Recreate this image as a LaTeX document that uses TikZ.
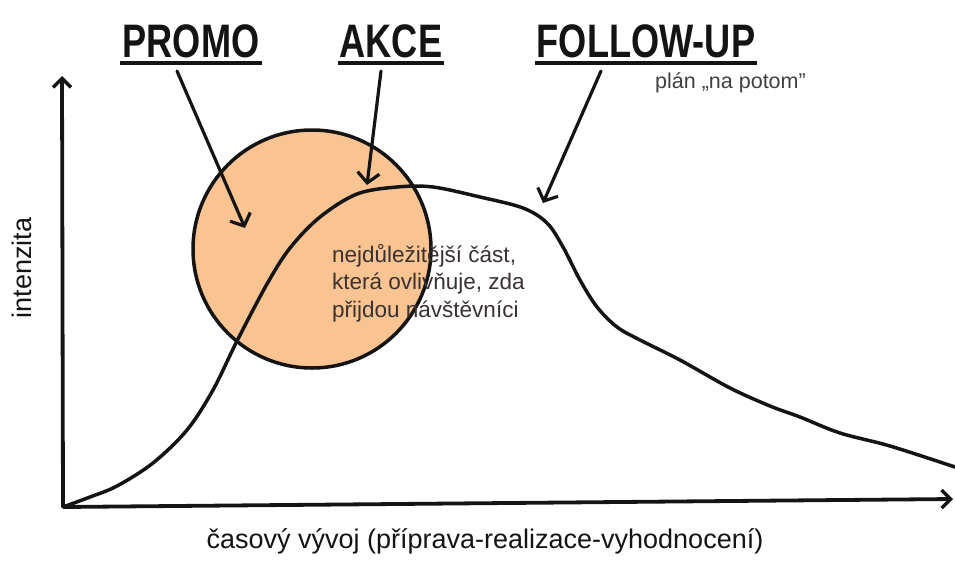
\documentclass[tikz,border=0pt]{standalone}
\usepackage{fontspec}
\setmainfont{Liberation Sans}
\newfontfamily\headfont[FakeStretch=0.77]{Liberation Sans}
\usetikzlibrary{arrows.meta}

\definecolor{peach}{HTML}{F9C392}
\definecolor{ink}{HTML}{141414}
\definecolor{notecol}{HTML}{3A3232}
\definecolor{graytext}{HTML}{404040}

\tikzset{
  heading/.style={font=\headfont\bfseries\fontsize{47}{50}\selectfont, inner sep=0pt, anchor=base, text=ink},
  underline/.style={line width=3.2pt, draw=ink},
  axis/.style={line width=3.8pt, draw=ink, -{Straight Barb[length=9pt,width=18pt,line width=3.4pt]}},
  pointer/.style={line width=3.2pt, draw=ink, line cap=round, -{Straight Barb[length=10pt,width=22pt,line width=3.2pt]}},
  curve/.style={line width=3.5pt, draw=ink, line join=round, line cap=round},
  axislabel/.style={font=\fontsize{27}{30}\selectfont, text=ink, inner sep=0pt},
  note/.style={font=\fontsize{22.5}{27.5}\selectfont, text=notecol, align=left, inner sep=0pt, anchor=north west},
}

\begin{document}
\begin{tikzpicture}[x=1pt, y=-1pt]
\useasboundingbox (0,0) rectangle (955,560);

% highlighted region
\filldraw[fill=peach, draw=ink, line width=3.5pt] (312,249) circle (119pt);

% axes
\coordinate (origin) at (63,507);
\coordinate (ytip) at (62,76);
\coordinate (xtip) at (953,499);
\draw[axis] (origin) -- (ytip);
\draw[axis] (origin) -- (xtip);

% intensity over time
\draw[curve] plot[smooth, tension=0.55] coordinates {
  (63,507) (90,497) (117,486) (153,463) (187,430) (213,390) (237,341)
  (267,284) (290,248) (320,217) (357,194) (397,187) (433,187) (480,197)
  (523,208) (547,223) (563,247) (580,280) (597,307) (617,327) (640,340)
  (680,360) (730,388) (770,406) (800,417) (840,433) (890,446) (955,467)};

% phase headings
\node[heading] (promo) at (191,57) {PROMO};
\node[heading] (akce) at (391,57) {AKCE};
\node[heading] (follow) at (646,57) {FOLLOW-UP};
\foreach \h in {promo, akce, follow}
  \draw[underline] ([yshift=-6pt, xshift=-2pt]\h.base west) -- ([yshift=-6pt, xshift=2pt]\h.base east);

% pointers to the curve
\coordinate (promoFrom) at (177,71);
\coordinate (promoTo) at (245,228);
\coordinate (akceFrom) at (381,71);
\coordinate (akceTo) at (367,185);
\coordinate (followFrom) at (601,71);
\coordinate (followTo) at (543,203);
\draw[pointer] (promoFrom) -- (promoTo);
\draw[pointer] (akceFrom) -- (akceTo);
\draw[pointer] (followFrom) -- (followTo);

% texts
\node[note] (core) at (332,244) {nejdůležitější část,\\která ovlivňuje, zda\\přijdou návštěvníci};
\node[font=\fontsize{21.5}{24}\selectfont, text=graytext, inner sep=0pt, anchor=base west] (later) at (655,88) {plán „na potom”};
\node[axislabel, rotate=90] (ylabel) at (22,268) {intenzita};
\node[axislabel, anchor=base] (xlabel) at (485,548) {časový vývoj (příprava-realizace-vyhodnocení)};
\end{tikzpicture}
\end{document}
